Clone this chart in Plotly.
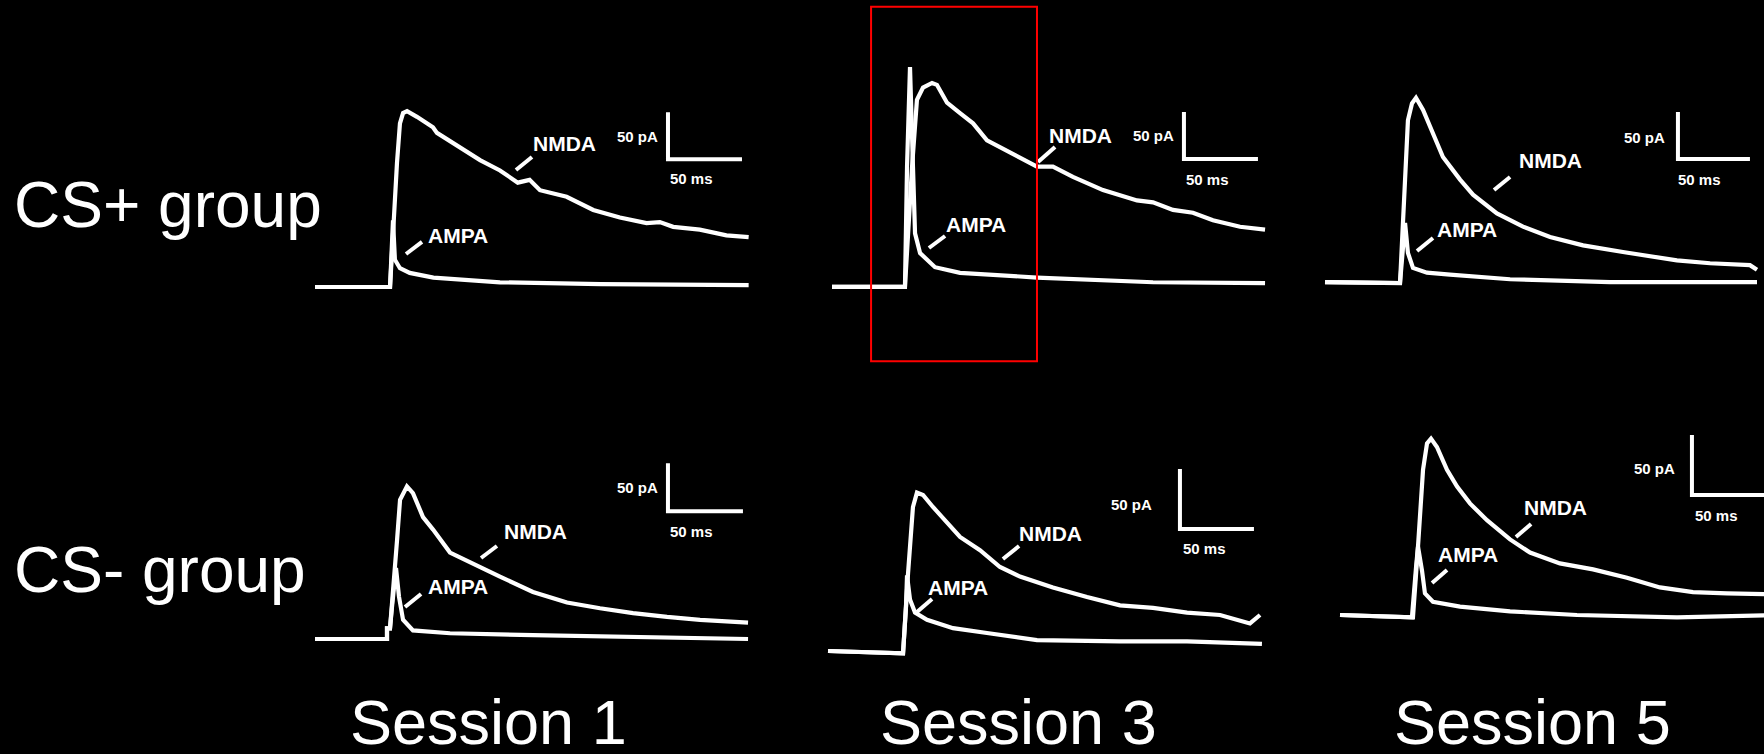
import plotly.graph_objects as go

W, H = 1764, 754

# ---------------- data: time (ms) and current (pA) ----------------
# CS+ group, Session 1
csp_s1_nmda_t = [0, 25, 50.7, 55.4, 57.4, 59.5, 62.2, 68.9, 79.7, 82.4, 98, 111.5, 125, 137, 145, 152,
                 170, 188, 206, 224, 233, 242, 260, 278, 293]
csp_s1_nmda_i = [0, 0, 0, 132, 174, 185, 187, 181, 170, 164, 149, 135, 124, 111, 114, 103,
                 96, 82, 74, 68, 69, 64, 61, 55, 53]
csp_s1_ampa_t = [0, 25, 50.7, 52.7, 54, 57.4, 64, 80, 125, 193, 293]
csp_s1_ampa_i = [0, 0, 0, 71, 29, 20, 15, 10, 5, 3, 2]

# CS+ group, Session 3
csp_s3_nmda_t = [0, 49.3, 54.1, 57.4, 61.5, 67.6, 70.9, 77.7, 86.5, 95.3, 104.7, 113.5, 127, 138.5,
                 149.3, 162.8, 183.1, 206.1, 216.9, 230.4, 243.9, 257.4, 275.7, 292.6]
csp_s3_nmda_i = [-1, -1, 127, 198, 211, 216, 214, 195, 184, 173, 155, 148, 137, 127,
                 127, 116, 102, 91, 89, 81, 78, 70, 63, 60]
csp_s3_ampa_t = [0, 49.3, 50.7, 52.7, 54.7, 56.1, 59.5, 69.6, 86.5, 108.8, 138.5, 216.9, 292.6]
csp_s3_ampa_i = [-1, -1, 127, 233, 127, 56, 35, 20, 14, 12, 9, 4, 3]

# CS+ group, Session 5
csp_s5_nmda_t = [0, 52.1, 55.6, 57.6, 60.4, 63.2, 68.1, 75, 81.9, 93.8, 102.8, 119.4, 137.5, 156.3,
                 179.2, 206.9, 220.8, 244.4, 267.4, 295.1, 300]
csp_s5_nmda_i = [1, 0, 110, 173, 191, 197, 184, 160, 134, 110, 94, 74, 60, 49,
                 40, 33, 30, 24, 21, 19, 14]
csp_s5_ampa_t = [0, 52.1, 55.6, 57.6, 61.1, 70.8, 86.8, 128.5, 197.9, 300]
csp_s5_ampa_i = [1, 0, 64, 32, 16, 11, 9, 4, 1, 1]

# CS- group, Session 1
csm_s1_nmda_t = [0, 48, 48, 50, 54.7, 56.7, 61.3, 65.3, 72, 78.7, 90, 105.3, 123.3, 145.3, 168, 190,
                 212, 234.7, 256.7, 288.7]
csm_s1_nmda_i = [0, 0, 11, 11, 103, 145, 159, 152, 127, 114, 90, 79, 65, 49, 38, 32,
                 27, 23, 20, 17]
csm_s1_ampa_t = [0, 48, 48, 50, 51.3, 54, 56, 58.7, 65.3, 90, 145.3, 212, 288.7]
csm_s1_ampa_i = [0, 0, 11, 11, 33, 74, 44, 20, 9, 6, 4, 2, 0]

# CS- group, Session 3
csm_s3_nmda_t = [0, 50.7, 54.1, 57.4, 60.1, 64.2, 70.9, 80.4, 89.2, 102.7, 116.2, 129.7, 152, 175,
                 197.3, 219.6, 242.6, 264.9, 285.1, 291.9]
csm_s3_nmda_i = [0, -2, 65, 120, 132, 130, 120, 107, 95, 84, 70, 62, 53, 45,
                 38, 36, 32, 30, 23, 30]
csm_s3_ampa_t = [0, 50.7, 52.7, 53.4, 55.4, 58.8, 66.9, 84.5, 107.4, 141.2, 197.3, 242.6, 293.2]
csm_s3_ampa_i = [0, -2, 37, 63, 43, 32, 26, 19, 15, 9, 8, 8, 6]

# CS- group, Session 5
csm_s5_nmda_t = [0, 49.3, 52.7, 56.1, 58.8, 61.5, 65.5, 72.3, 79.1, 87.8, 99.3, 114.9, 128.4, 148.6,
                 171, 193.9, 216.2, 238.5, 261.5, 286.5, 300]
csm_s5_nmda_i = [0, -2, 57, 121, 143, 147, 140, 121, 107, 93, 79, 63, 52, 43,
                 38, 31, 23, 19, 18, 18, 17]
csm_s5_ampa_t = [0, 48.6, 51.4, 52.7, 55.4, 57.4, 62.8, 81.1, 114.9, 160.1, 227.7, 286.5, 300]
csm_s5_ampa_i = [0, -2, 40, 57, 37, 18, 11, 7, 3, 0, -2, 0, 0]

# scale-bar corner (ms, pA) per panel; bars are 50 ms x 50 pA
scale_corner_t = [238.5, 237.8, 245.1, 235.3, 237.8, 237.8]
scale_corner_i = [136, 135, 132, 133, 101.7, 100]
scale_len_ms = 50
scale_len_pa = 50

group_labels = ["CS+ group", "CS- group"]
session_labels = ["Session 1", "Session 3", "Session 5"]

# highlighted window in CS+ / Session 3 (ms, pA)
window_t = [26.4, 138.5]
window_i = [-80, 297]

# ---------------- layout of the six panels (pixel geometry) ----------------
panels = [
    dict(x0=315, y0=287, sx=1.48, sy=0.94, top=0, bot=372,
         nmda=(csp_s1_nmda_t, csp_s1_nmda_i), ampa=(csp_s1_ampa_t, csp_s1_ampa_i),
         pa=(217.6, 159.6), ms=(254.7, 114.9), nl=(168.9, 153), np=((135.8, 124.5), (146.6, 138.3)),
         al=(96.6, 55.3), ap=((61.5, 35.1), (72.3, 47.9))),
    dict(x0=832, y0=286, sx=1.48, sy=0.94, top=0, bot=372,
         nmda=(csp_s3_nmda_t, csp_s3_nmda_i), ampa=(csp_s3_ampa_t, csp_s3_ampa_i),
         pa=(216.9, 159.6), ms=(254.0, 113.8), nl=(168.2, 160.6), np=((139.2, 131.9), (150.7, 147.9)),
         al=(97.3, 64.9), ap=((65.5, 40.4), (76.4, 53.2))),
    dict(x0=1325, y0=283, sx=1.44, sy=0.94, top=0, bot=372,
         nmda=(csp_s5_nmda_t, csp_s5_nmda_i), ampa=(csp_s5_ampa_t, csp_s5_ampa_i),
         pa=(222.2, 155.3), ms=(260.4, 110.6), nl=(156.3, 129.8), np=((117.4, 98.9), (128.5, 112.8)),
         al=(98.6, 56.4), ap=((63.9, 34.0), (75.0, 47.9))),
    dict(x0=315, y0=639, sx=1.5, sy=0.96, top=380, bot=690,
         nmda=(csm_s1_nmda_t, csm_s1_nmda_i), ampa=(csm_s1_ampa_t, csm_s1_ampa_i),
         pa=(214.7, 157.3), ms=(251.3, 112.5), nl=(147.3, 111.5), np=((110.7, 84.4), (121.3, 96.9)),
         al=(95.3, 54.2), ap=((60.0, 33.3), (70.7, 46.9))),
    dict(x0=828, y0=651, sx=1.48, sy=1.2, top=380, bot=690,
         nmda=(csm_s3_nmda_t, csm_s3_nmda_i), ampa=(csm_s3_ampa_t, csm_s3_ampa_i),
         pa=(205.4, 121.7), ms=(254.1, 85.8), nl=(150.0, 98.3), np=((118.2, 76.7), (129.1, 87.5)),
         al=(87.8, 53.3), ap=((60.1, 32.5), (70.3, 43.3))),
    dict(x0=1340, y0=615, sx=1.48, sy=1.2, top=380, bot=690,
         nmda=(csm_s5_nmda_t, csm_s5_nmda_i), ampa=(csm_s5_ampa_t, csm_s5_ampa_i),
         pa=(212.8, 122.5), ms=(254.7, 83.3), nl=(145.9, 90.0), np=((118.9, 65.0), (129.1, 75.8)),
         al=(86.5, 50.8), ap=((62.2, 26.7), (72.3, 37.5))),
]

FONT = "Liberation Sans, Arial, sans-serif"
LW = 4.2
fig = go.Figure()
layout = dict(width=W, height=H, margin=dict(l=0, r=0, t=0, b=0),
              paper_bgcolor="black", plot_bgcolor="black", showlegend=False)
annotations = []
shapes = []

for k, p in enumerate(panels):
    n = k + 1
    xs = "x" if n == 1 else f"x{n}"
    ys = "y" if n == 1 else f"y{n}"
    xa = p["x0"] - 15
    xb = min(p["x0"] + 450, W)
    xrng = [(xa - p["x0"]) / p["sx"], (xb - p["x0"]) / p["sx"]]
    yrng = [(p["y0"] - p["bot"]) / p["sy"], (p["y0"] - p["top"]) / p["sy"]]
    layout["xaxis" if n == 1 else f"xaxis{n}"] = dict(
        domain=[xa / W, xb / W], range=xrng, visible=False, fixedrange=True, anchor=ys)
    layout["yaxis" if n == 1 else f"yaxis{n}"] = dict(
        domain=[1 - p["bot"] / H, 1 - p["top"] / H], range=yrng, visible=False,
        fixedrange=True, anchor=xs)

    line = dict(color="white", width=LW)
    for t, i in (p["ampa"], p["nmda"]):
        fig.add_trace(go.Scatter(x=t, y=i, mode="lines", line=line, xaxis=xs, yaxis=ys,
                                 hoverinfo="skip"))
    # scale bar
    ct, ci = scale_corner_t[k], scale_corner_i[k]
    fig.add_trace(go.Scatter(x=[ct, ct, ct + scale_len_ms], y=[ci + scale_len_pa, ci, ci],
                             mode="lines", line=dict(color="white", width=4),
                             xaxis=xs, yaxis=ys, hoverinfo="skip"))
    # pointer ticks
    for seg in (p["np"], p["ap"]):
        fig.add_trace(go.Scatter(x=[seg[0][0], seg[1][0]], y=[seg[0][1], seg[1][1]],
                                 mode="lines", line=dict(color="white", width=4),
                                 xaxis=xs, yaxis=ys, hoverinfo="skip"))
    for txt, pos, size in (("50 pA", p["pa"], 15), ("50 ms", p["ms"], 15),
                           ("NMDA", p["nl"], 21), ("AMPA", p["al"], 21)):
        annotations.append(dict(text=f"<b>{txt}</b>", x=pos[0], y=pos[1], xref=xs, yref=ys,
                                showarrow=False, xanchor="center", yanchor="middle",
                                font=dict(family=FONT, size=size, color="white")))
    if n == 2:
        shapes.append(dict(type="rect", xref=xs, yref=ys, x0=window_t[0], x1=window_t[1],
                           y0=window_i[0], y1=window_i[1], line=dict(color="#ff0000", width=2)))

# group and session labels
for lbl, yc in zip(group_labels, [205, 570]):
    annotations.append(dict(text=lbl, x=12 / W, y=1 - yc / H, xref="paper", yref="paper",
                            showarrow=False, xanchor="left", yanchor="middle",
                            font=dict(family=FONT, size=64, color="white")))
for lbl, xc in zip(session_labels, [488, 1018, 1532]):
    annotations.append(dict(text=lbl, x=xc / W, y=1 - 722 / H, xref="paper", yref="paper",
                            showarrow=False, xanchor="center", yanchor="middle",
                            font=dict(family=FONT, size=63, color="white")))

layout["annotations"] = annotations
layout["shapes"] = shapes
fig.update_layout(**layout)
fig.write_html("out.html", config={"displayModeBar": False},
               post_script="document.body.style.margin='0';document.body.style.overflow='hidden';")
